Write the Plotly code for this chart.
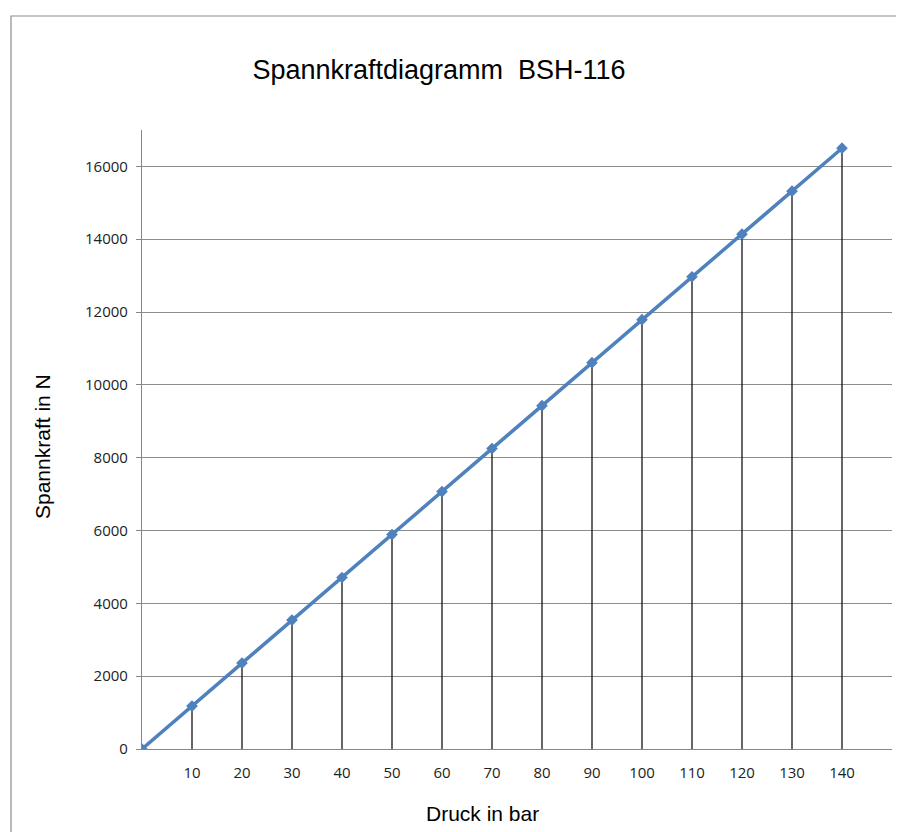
import plotly.graph_objects as go

druck = [0, 10, 20, 30, 40, 50, 60, 70, 80, 90, 100, 110, 120, 130, 140]
spannkraft = [0, 1180, 2360, 3540, 4710, 5890, 7070, 8250, 9430, 10610, 11790, 12970, 14140, 15320, 16500]
x_ticks = [10, 20, 30, 40, 50, 60, 70, 80, 90, 100, 110, 120, 130, 140]
y_ticks = [0, 2000, 4000, 6000, 8000, 10000, 12000, 14000, 16000]

# drop lines from each point down to the x axis
drop_x, drop_y = [], []
for xv, yv in zip(druck, spannkraft):
    drop_x += [xv, xv, None]
    drop_y += [0, yv, None]

fig = go.Figure()
fig.add_trace(go.Scatter(x=drop_x, y=drop_y, mode="lines",
                         line=dict(color="black", width=1.2),
                         hoverinfo="skip", showlegend=False))
fig.add_trace(go.Scatter(x=druck, y=spannkraft, mode="lines+markers",
                         line=dict(color="#4F81BD", width=3.5),
                         marker=dict(symbol="diamond", size=9, color="#4F81BD"),
                         showlegend=False))

OFF = 8  # page body margin
W, H = 904 - OFF, 832 - OFF
L, T = 142 - OFF, 130 - OFF
R = W - (892 - OFF)
B = H - (749 - OFF)
pw, ph = W - L - R, H - T - B

tickfont = dict(family="Open Sans, Liberation Sans", size=15, color="#222")
titlefont = dict(family="Liberation Sans, Arial", size=21, color="black")

fig.update_layout(
    width=W, height=H,
    margin=dict(l=L, r=R, t=T, b=B),
    paper_bgcolor="white", plot_bgcolor="white",
    title=dict(text="Spannkraftdiagramm  BSH-116",
               font=dict(family="Liberation Sans, Arial", size=27, color="black"),
               x=(439 - OFF) / W, xanchor="center", y=1 - (70 - OFF) / H, yanchor="middle"),
    xaxis=dict(range=[0, 150], tickvals=x_ticks, ticktext=[str(v) for v in x_ticks],
               showgrid=False,
               showline=True, linecolor="#868686", linewidth=1.2,
               ticks="", ticklabelstandoff=10, zeroline=False, tickfont=tickfont),
    yaxis=dict(range=[0, 17000], tickvals=y_ticks, ticktext=[str(v) for v in y_ticks],
               showgrid=True, gridcolor="#8c8c8c", gridwidth=1,
               showline=True, linecolor="#868686", linewidth=1.2,
               ticks="outside", ticklen=5, tickcolor="#868686", ticklabelstandoff=5,
               zeroline=False, tickfont=tickfont),
    annotations=[
        dict(text="Druck in bar", xref="paper", yref="paper",
             x=(482 - 142) / pw, y=-(813 - 749) / ph,
             xanchor="center", yanchor="middle", showarrow=False, font=titlefont),
        dict(text="Spannkraft in N", xref="paper", yref="paper", textangle=-90,
             x=-(142 - 42) / pw, y=(749 - 447) / ph,
             xanchor="center", yanchor="middle", showarrow=False, font=titlefont),
    ],
    shapes=[dict(type="rect", xref="paper", yref="paper",
                 x0=(11 - 142) / pw, x1=1.2, y0=-0.3, y1=(749 - 16) / ph,
                 line=dict(color="#8c8c8c", width=1.2), fillcolor="rgba(0,0,0,0)",
                 layer="below")],
)

fig.write_html("out.html")
